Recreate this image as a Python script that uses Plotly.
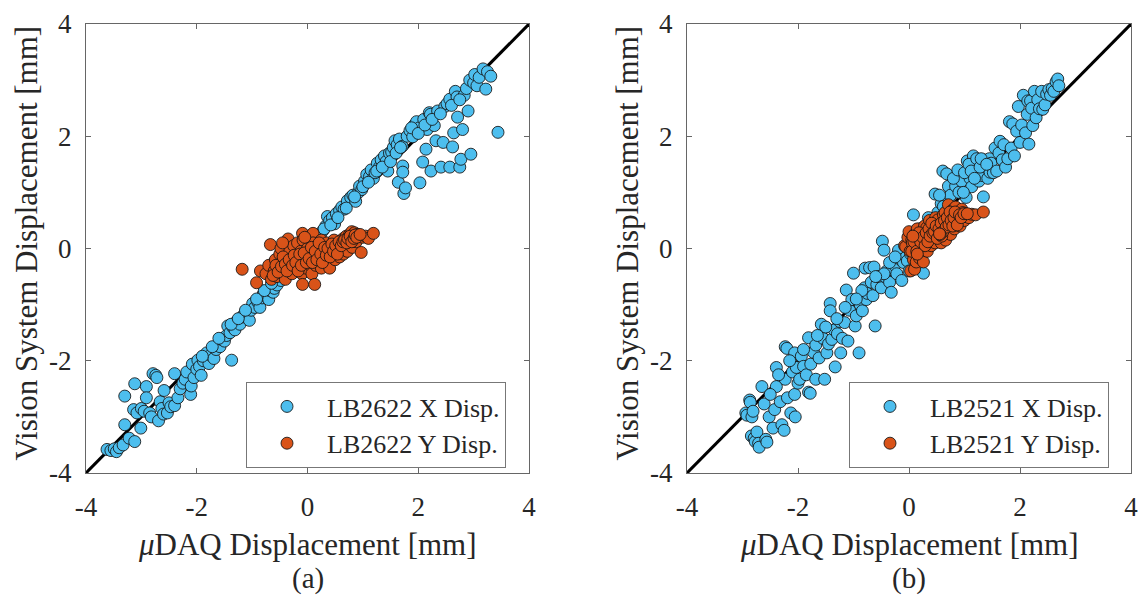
import plotly.graph_objects as go

# ---------------- data ----------------
AXIS_RANGE = [-4, 4]
TICKS = [-4, -2, 0, 2, 4]
TICK_TEXT = ["-4", "-2", "0", "2", "4"]

# Panel (a): LB2622 X displacement  (uDAQ, vision)
A_X = [(-3.62,-3.58),(-3.55,-3.60),(-3.49,-3.57),(-3.45,-3.62),(-3.40,-3.55),(-3.33,-3.50),(-3.30,-2.63),(-3.30,-3.14),
       (-3.22,-3.38),(-3.12,-2.41),(-3.14,-2.87),(-3.12,-3.44),(-3.08,-2.93),(-3.01,-3.20),(-3.00,-2.85),(-2.95,-2.90),
       (-2.91,-2.46),(-2.91,-2.66),(-2.85,-2.93),(-2.82,-3.00),(-2.79,-2.23),(-2.74,-2.26),(-2.72,-2.30),(-2.69,-3.07),
       (-2.66,-2.73),(-2.63,-2.85),(-2.59,-2.53),(-2.60,-2.95),(-2.53,-2.93),(-2.50,-2.75),(-2.47,-2.82),(-2.40,-2.23),
       (-2.40,-2.80),(-2.34,-2.66),(-2.30,-2.50),(-2.25,-2.40),(-2.21,-2.33),(-2.18,-2.20),(-2.11,-2.60),(-2.10,-2.45),
       (-2.08,-2.06),(-2.05,-2.30),(-2.00,-2.15),(-1.98,-1.99),(-1.95,-2.10),(-1.92,-2.26),(-1.88,-2.00),(-1.82,-1.86),
       (-1.78,-2.05),(-1.75,-1.90),(-1.69,-1.96),(-1.65,-1.80),(-1.63,-1.72),(-1.58,-1.75),(-1.55,-1.62),(-1.50,-1.65),
       (-1.46,-1.55),(-1.44,-1.38),(-1.40,-1.50),(-1.37,-1.99),(-1.35,-1.40),(-1.31,-1.45),(-1.28,-1.30),(-1.22,-1.35),
       (-1.18,-1.22),(-1.15,-1.18),(-1.10,-1.20),(-1.05,-1.28),(-1.02,-1.10),(-0.99,-0.98),(-0.95,-1.05),(-0.90,-0.95),
       (-0.86,-1.05),(-0.82,-0.88),(-0.80,-0.81),(-0.75,-0.85),(-0.70,-0.91),(-0.68,-0.75),(-0.62,-0.78),(-0.60,-0.71),
       (-0.60,-0.24),(-0.55,-0.65),(-0.48,-0.57),(-0.42,-0.50),(-0.35,-0.42),(-0.28,-0.35),(-0.20,-0.22),(-0.12,-0.15),
       (-0.05,-0.05),(0.05,0.02),(0.12,0.10),(0.18,0.20),(0.23,0.24),(0.28,0.32),(0.33,0.40),(0.36,0.57),(0.40,0.50),
       (0.45,0.55),(0.49,0.44),(0.52,0.62),(0.58,0.68),(0.62,0.74),(0.66,0.70),(0.72,0.85),(0.78,0.91),(0.82,0.95),
       (0.87,0.84),(0.92,1.00),(0.94,1.11),(0.98,1.05),(1.03,1.20),(1.07,1.32),(1.12,1.28),(1.15,1.40),(1.19,1.25),
       (1.22,1.35),(1.26,1.52),(1.30,1.45),(1.33,1.58),(1.39,1.65),(1.42,1.55),(1.45,1.38),(1.48,1.70),(1.52,1.72),
       (1.55,1.80),(1.58,1.92),(1.62,1.85),(1.64,1.18),(1.66,1.95),(1.71,1.82),(1.72,1.47),(1.72,1.36),(1.74,0.98),
       (1.77,1.08),(1.80,2.00),(1.85,2.10),(1.90,1.99),(1.93,2.20),(1.97,2.26),(2.02,2.15),(2.03,1.17),(2.08,1.54),
       (2.10,2.30),(2.14,1.77),(2.16,2.12),(2.20,2.42),(2.22,2.39),(2.23,1.38),(2.29,2.19),(2.32,1.92),(2.35,2.45),
       (2.41,1.45),(2.45,1.89),(2.48,2.53),(2.52,2.58),(2.57,1.45),(2.57,2.66),(2.62,1.81),(2.64,2.06),(2.67,2.80),
       (2.70,2.70),(2.71,2.34),(2.75,1.45),(2.77,1.59),(2.80,2.12),(2.83,2.73),(2.87,2.85),(2.90,2.45),(2.93,3.00),
       (2.95,1.68),(3.00,2.95),(3.02,3.10),(3.06,2.90),(3.10,3.05),(3.17,3.20),(3.22,2.84),(3.25,3.15),(3.31,3.07),
       (3.44,2.07),
       (-1.90,-1.92),(-1.72,-1.75),(-1.60,-1.60),(-1.38,-1.35),(-1.25,-1.25),(-1.12,-1.10),(-0.92,-0.90),(-0.78,-0.75),
       (-0.65,-0.62),(-0.52,-0.48),(-0.45,-0.40),(0.15,0.15),(0.30,0.35),(0.42,0.42),(0.55,0.55),(0.70,0.72),
       (0.85,0.92),(1.00,1.10),(1.10,1.18),(1.25,1.38),(1.35,1.45),(1.50,1.55),(1.60,1.70),(1.68,1.80),(1.88,2.15),
       (2.00,2.05),(2.12,2.20),(2.25,2.30),(2.40,2.40),(2.60,2.55),(2.75,2.65)]

# Panel (a): LB2622 Y displacement
A_Y = [(-1.18,-0.37),(-0.92,-0.61),(-0.85,-0.40),(-0.75,-0.45),(-0.70,-0.30),(-0.67,0.07),(-0.65,-0.55),(-0.60,-0.40),
       (-0.58,-0.20),(-0.55,-0.50),(-0.52,-0.35),(-0.50,-0.10),(-0.48,0.00),(-0.45,-0.25),(-0.42,-0.45),(-0.40,-0.55),
       (-0.38,-0.15),(-0.35,0.17),(-0.35,-0.35),(-0.32,-0.05),(-0.30,-0.25),(-0.28,-0.45),(-0.25,0.05),(-0.22,-0.15),
       (-0.20,-0.35),(-0.18,0.10),(-0.15,-0.25),(-0.12,-0.05),(-0.10,-0.45),(-0.09,0.27),(-0.09,-0.64),(-0.08,0.15),
       (-0.05,-0.20),(-0.03,-0.35),(0.00,0.00),(0.02,-0.10),(0.05,0.20),(0.05,-0.30),(0.08,-0.45),(0.10,0.27),
       (0.10,0.10),(0.12,-0.15),(0.13,-0.64),(0.15,-0.30),(0.18,0.05),(0.20,-0.05),(0.22,-0.20),(0.25,0.15),
       (0.25,-0.35),(0.28,0.00),(0.30,-0.15),(0.32,-0.25),(0.35,0.10),(0.35,-0.05),(0.38,-0.20),(0.40,-0.35),
       (0.42,0.05),(0.45,-0.10),(0.48,0.15),(0.50,-0.20),(0.52,-0.05),(0.55,0.05),(0.58,-0.15),(0.60,0.10),
       (0.62,0.00),(0.65,0.18),(0.65,-0.10),(0.68,0.05),(0.70,0.22),(0.72,-0.05),(0.74,0.12),(0.75,0.10),(0.76,0.25),
       (0.78,0.15),(0.79,0.20),(0.80,0.30),(0.81,0.02),(0.82,0.20),(0.83,0.24),(0.85,0.28),(0.88,0.12),(0.90,0.25),
       (0.93,0.22),(0.97,-0.07),(1.00,0.20),(1.05,0.22),(1.10,0.18),(1.19,0.27),
       (-0.62,-0.48),(-0.57,-0.30),(-0.53,-0.42),(-0.47,-0.32),(-0.44,-0.15),(-0.40,-0.28),(-0.37,-0.40),(-0.33,-0.20),
       (-0.27,-0.30),(-0.24,-0.12),(-0.21,-0.25),(-0.17,-0.40),(-0.14,-0.10),(-0.11,-0.30),(-0.06,-0.08),(-0.02,-0.25),
       (0.03,-0.18),(0.07,0.02),(0.09,-0.25),(0.14,-0.05),(0.17,-0.20),(0.21,0.10),(0.24,-0.10),(0.27,-0.25),
       (0.31,0.02),(0.34,-0.12),(0.37,0.00),(0.41,-0.15),(0.44,0.08),(0.47,-0.05),(0.51,0.05),(0.54,-0.10),
       (0.57,0.12),(0.61,0.05),(0.64,0.12),(0.67,0.15),(0.71,0.10),(0.73,0.18),(0.77,0.22),(0.80,0.12),(0.84,0.18),
       (0.86,0.24),(0.89,0.20),(0.95,0.25),(-0.45,0.10),(-0.05,0.20)]

# Panel (b): LB2521 X displacement
B_X = [(-2.94,-2.93),(-2.92,-2.97),(-2.87,-2.70),(-2.86,-2.74),(-2.84,-3.34),(-2.83,-3.00),(-2.81,-2.90),(-2.79,-3.38),
       (-2.77,-3.44),(-2.74,-3.27),(-2.71,-3.47),(-2.70,-3.54),(-2.65,-2.46),(-2.61,-2.77),(-2.58,-3.40),(-2.56,-3.45),
       (-2.52,-3.00),(-2.45,-3.20),(-2.42,-2.87),(-2.39,-2.12),(-2.39,-2.46),(-2.32,-2.73),(-2.29,-3.14),(-2.25,-3.24),
       (-2.23,-1.75),(-2.23,-2.33),(-2.20,-1.78),(-2.19,-2.66),(-2.13,-2.93),(-2.10,-2.20),(-2.06,-1.86),(-2.06,-2.60),
       (-2.05,-3.00),(-2.03,-2.12),(-2.00,-2.40),(-1.97,-2.33),(-1.94,-1.92),(-1.90,-2.10),(-1.85,-2.25),(-1.81,-2.56),
       (-1.81,-1.59),(-1.78,-2.58),(-1.77,-2.06),(-1.72,-1.85),(-1.68,-1.72),(-1.68,-2.33),(-1.62,-1.95),(-1.58,-1.35),
       (-1.55,-1.60),(-1.52,-2.33),(-1.48,-1.86),(-1.45,-1.70),(-1.42,-0.98),(-1.42,-1.11),(-1.39,-1.62),(-1.35,-1.45),
       (-1.33,-2.11),(-1.29,-1.52),(-1.25,-1.30),(-1.23,-1.86),(-1.20,-1.60),(-1.16,-1.32),(-1.13,-0.74),(-1.10,-1.65),
       (-1.07,-1.10),(-1.03,-0.91),(-1.00,-0.44),(-0.97,-1.38),(-0.95,-1.20),(-0.90,-1.86),(-0.88,-1.00),(-0.84,-1.11),
       (-0.80,-0.70),(-0.79,-0.35),(-0.77,-0.91),(-0.75,-0.80),(-0.71,-0.34),(-0.68,-0.60),(-0.65,-0.84),(-0.63,-0.33),
       (-0.61,-1.38),(-0.58,-0.64),(-0.55,-0.50),(-0.50,-0.70),(-0.48,0.13),(-0.45,-0.03),(-0.42,-0.51),(-0.40,-0.40),
       (-0.35,-0.60),(-0.32,-0.78),(-0.30,-0.35),(-0.26,-0.30),(-0.22,-0.45),(-0.19,-0.03),(-0.15,-0.20),(-0.13,-0.57),
       (-0.10,-0.25),(-0.05,-0.15),(-0.03,-0.22),(0.00,-0.40),(0.03,-0.10),(0.08,0.60),(0.10,0.00),(0.13,0.03),
       (0.18,0.10),(0.26,-0.44),(0.30,0.20),(0.42,0.24),(0.47,0.97),(0.50,0.45),(0.52,0.64),(0.58,0.80),(0.61,1.38),
       (0.68,1.33),(0.68,0.90),(0.71,1.11),(0.75,0.95),(0.84,1.11),(0.90,1.00),(0.95,1.20),(1.05,1.56),(1.03,0.91),
       (1.06,1.35),(1.10,1.25),(1.13,1.10),(1.16,1.65),(1.20,1.40),(1.23,1.45),(1.26,1.20),(1.34,0.92),(1.32,1.30),
       (1.35,1.58),(1.38,1.45),(1.42,1.25),(1.46,1.36),(1.45,1.60),(1.48,1.52),(1.52,1.35),(1.55,1.79),(1.58,1.38),
       (1.62,1.70),(1.64,1.91),(1.68,1.58),(1.71,1.85),(1.74,1.45),(1.78,1.60),(1.81,2.26),(1.84,1.79),(1.87,2.22),
       (1.90,1.65),(1.94,2.09),(1.97,2.53),(2.00,1.89),(2.03,2.20),(2.06,2.73),(2.10,2.06),(2.14,2.63),(2.13,2.39),
       (2.16,1.86),(2.19,2.63),(2.21,2.50),(2.23,2.19),(2.26,2.80),(2.29,2.33),(2.32,2.65),(2.35,2.49),(2.39,2.80),
       (2.41,2.48),(2.45,2.56),(2.48,2.75),(2.52,2.83),(2.55,2.73),(2.58,2.85),(2.61,2.80),(2.65,2.97),(2.68,3.02),
       (2.70,2.90),
       (0.20,0.35),(0.35,0.55),(0.55,0.95),(0.62,0.75),(0.80,1.25),(0.88,1.40),(0.98,1.00),(1.00,1.35),(1.08,1.50),
       (1.12,1.38),(1.18,1.25),(1.22,1.60),(1.28,1.45),(1.30,1.60),(1.40,1.50),(-0.35,-0.25),(-0.25,-0.15),
       (-0.45,-0.45),(-0.60,-0.50),(-0.85,-0.75),(-0.95,-0.90),(-1.15,-1.05),(-1.30,-1.25),(-1.50,-1.40),
       (-1.65,-1.55),(-1.90,-1.80),(-2.15,-2.00),(-2.35,-2.25),(-2.50,-2.60)]

# Panel (b): LB2521 Y displacement
B_Y = [(-0.08,0.05),(-0.06,0.03),(-0.02,0.20),(0.00,0.30),(0.02,-0.05),(0.03,-0.40),(0.05,0.15),(0.06,0.10),
       (0.08,-0.20),(0.10,-0.37),(0.10,0.25),(0.12,0.05),(0.13,-0.24),(0.15,0.35),(0.17,0.15),(0.19,-0.17),
       (0.20,0.00),(0.22,0.25),(0.24,-0.10),(0.26,0.03),(0.26,-0.24),(0.28,0.40),(0.30,0.15),(0.32,0.37),
       (0.33,-0.05),(0.35,0.25),(0.37,0.50),(0.39,0.17),(0.40,0.05),(0.42,0.35),(0.44,0.20),(0.45,0.37),
       (0.47,0.10),(0.48,0.55),(0.50,0.28),(0.52,0.51),(0.53,0.20),(0.55,0.24),(0.55,0.30),(0.56,0.22),
       (0.57,0.26),(0.56,0.26),(0.58,0.10),(0.60,0.40),(0.62,0.60),(0.63,0.30),(0.65,0.64),(0.66,0.15),
       (0.68,0.45),(0.70,0.35),(0.71,0.78),(0.73,0.55),(0.75,0.25),(0.77,0.44),(0.78,0.68),(0.80,0.60),
       (0.82,0.35),(0.84,0.74),(0.86,0.50),(0.88,0.62),(0.90,0.51),(0.92,0.40),(0.95,0.70),(0.97,0.64),
       (1.00,0.50),(1.03,0.57),(1.08,0.55),(1.13,0.61),(1.20,0.60),(1.34,0.65),
       (0.05,-0.05),(0.09,0.12),(0.14,-0.05),(0.18,0.28),(0.21,0.12),(0.25,0.20),(0.29,0.05),(0.31,0.28),
       (0.34,0.12),(0.36,0.35),(0.38,0.22),(0.41,0.45),(0.43,0.28),(0.46,0.30),(0.49,0.40),(0.51,0.18),
       (0.54,0.35),(0.58,0.45),(0.59,0.22),(0.61,0.30),(0.64,0.50),(0.67,0.38),(0.69,0.55),(0.72,0.42),
       (0.74,0.65),(0.76,0.50),(0.79,0.40),(0.81,0.55),(0.83,0.65),(0.87,0.42),(0.91,0.60),(0.94,0.55),
       (0.99,0.62),(1.05,0.62),(0.15,-0.10),(0.07,0.22),(0.56,0.25),(0.55,0.26)]

LEGEND_A = ["LB2622 X Disp.", "LB2622 Y Disp."]
LEGEND_B = ["LB2521 X Disp.", "LB2521 Y Disp."]
X_TITLE = "<i>μ</i>DAQ Displacement [mm]"
Y_TITLE = "Vision System Displacement [mm]"
CAPTIONS = ["(a)", "(b)"]

BLUE = "#4DBEEE"
ORANGE = "#D95319"
FONT = "Liberation Serif, Times New Roman, serif"
TXT = "#262626"

W, H = 1142, 596
LEFT_PX = (86, 529)
RIGHT_PX = (687, 1131)
TOP_PX, BOT_PX = 24, 473


def px2x(p):
    return p / W


def px2y(p):
    return 1 - p / H


fig = go.Figure()

panels = [
    ("x", "y", A_X, A_Y, LEGEND_A, "legend"),
    ("x2", "y2", B_X, B_Y, LEGEND_B, "legend2"),
]
for xa, ya, sx, sy, names, leg in panels:
    fig.add_trace(go.Scatter(x=AXIS_RANGE, y=AXIS_RANGE, mode="lines", xaxis=xa, yaxis=ya,
                             line=dict(color="black", width=3), showlegend=False, hoverinfo="skip"))
    for pts, col, nm in ((sx, BLUE, names[0]), (sy, ORANGE, names[1])):
        xs, ys = zip(*pts)
        fig.add_trace(go.Scatter(x=list(xs), y=list(ys), mode="markers", xaxis=xa, yaxis=ya,
                                 name=nm, legend=leg, cliponaxis=False,
                                 marker=dict(color=col, size=12,
                                             line=dict(color="rgba(20,20,20,0.85)", width=1))))

axis_common = dict(range=AXIS_RANGE, tickvals=TICKS, ticktext=TICK_TEXT, ticks="inside", ticklen=5,
                   tickwidth=1, tickcolor="#666", showline=True, linecolor="#666", linewidth=1,
                   mirror="ticks", showgrid=False, zeroline=False, automargin=False,
                   tickfont=dict(family=FONT, size=27, color=TXT))

ydom = [px2y(BOT_PX), px2y(TOP_PX)]
legend_common = dict(xanchor="left", yanchor="top", bgcolor="white", bordercolor="#777",
                     borderwidth=1, font=dict(family=FONT, size=26, color=TXT), itemwidth=70)
fig.update_layout(
    width=W, height=H, margin=dict(l=0, r=0, t=0, b=0, autoexpand=False),
    paper_bgcolor="white", plot_bgcolor="white",
    xaxis=dict(domain=[px2x(LEFT_PX[0]), px2x(LEFT_PX[1])], anchor="y", ticklabelstandoff=10, **axis_common),
    yaxis=dict(domain=ydom, anchor="x", ticklabelstandoff=8, **axis_common),
    xaxis2=dict(domain=[px2x(RIGHT_PX[0]), px2x(RIGHT_PX[1])], anchor="y2", ticklabelstandoff=10, **axis_common),
    yaxis2=dict(domain=ydom, anchor="x2", ticklabelstandoff=8, **axis_common),
    legend=dict(x=px2x(246), y=px2y(382), **legend_common),
    legend2=dict(x=px2x(849), y=px2y(382), **legend_common),
)

anns = []
for (l, r), cap in ((LEFT_PX, CAPTIONS[0]), (RIGHT_PX, CAPTIONS[1])):
    cx = (l + r) / 2
    anns.append(dict(text=X_TITLE, x=px2x(cx), y=px2y(544), xref="paper", yref="paper",
                     xanchor="center", yanchor="middle", showarrow=False,
                     font=dict(family=FONT, size=31, color=TXT)))
    anns.append(dict(text=cap, x=px2x(cx), y=px2y(578), xref="paper", yref="paper",
                     xanchor="center", yanchor="middle", showarrow=False,
                     font=dict(family=FONT, size=29, color=TXT)))
    anns.append(dict(text=Y_TITLE, x=px2x(l - 60), y=px2y((TOP_PX + BOT_PX) / 2 - 5), xref="paper", yref="paper",
                     xanchor="center", yanchor="middle", showarrow=False, textangle=-90,
                     font=dict(family=FONT, size=31, color=TXT)))
fig.update_layout(annotations=anns)

fig.write_html("out.html", config={"displayModeBar": False},
               post_script="document.body.style.margin='0';document.body.style.overflow='hidden';")
